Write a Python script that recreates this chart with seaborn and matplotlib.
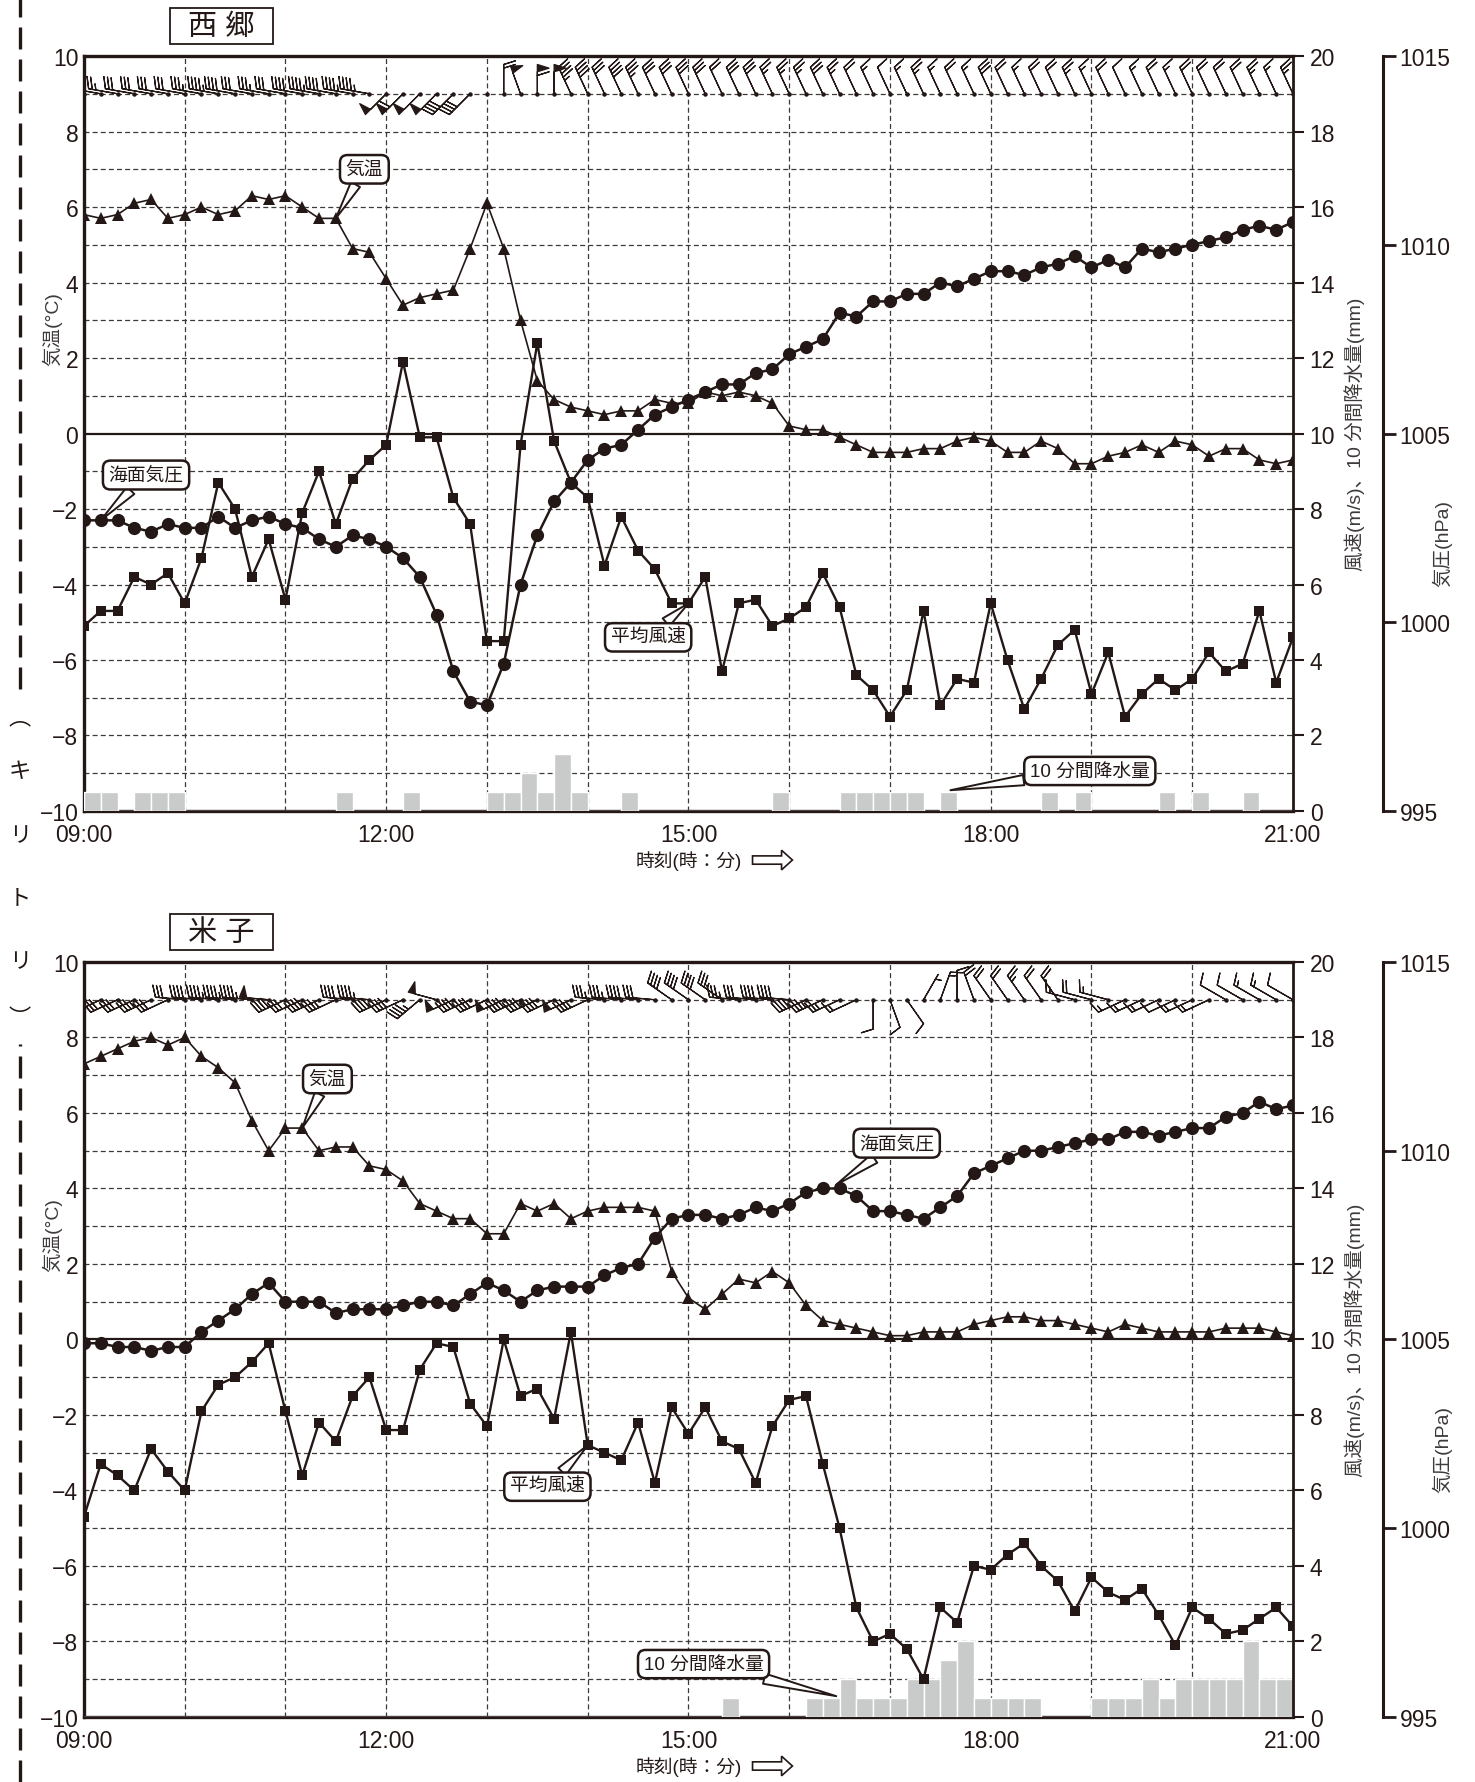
import matplotlib
matplotlib.use("Agg")
import matplotlib.pyplot as plt
from matplotlib.patches import FancyArrow, Rectangle
from matplotlib.lines import Line2D
import seaborn as sns
import numpy as np

INK = '#231815'
GRID = '#3e3a39'
RAIN = '#c9caca'

# 10-minute steps, 09:00 .. 21:00
steps = np.arange(73)
hour_ticks = [0, 18, 36, 54, 72]
hour_labels = ['09:00', '12:00', '15:00', '18:00', '21:00']

# ---------------- 西郷 ----------------
saigo_temp = [5.8, 5.7, 5.8, 6.1, 6.2, 5.7, 5.8, 6.0, 5.8, 5.9,
              6.3, 6.2, 6.3, 6.0, 5.7, 5.7, 4.9, 4.8, 4.1, 3.4,
              3.6, 3.7, 3.8, 4.9, 6.1, 4.9, 3.0, 1.4, 0.9, 0.7,
              0.6, 0.5, 0.6, 0.6, 0.9, 0.8, 0.8, 1.1, 1.0, 1.1,
              1.0, 0.8, 0.2, 0.1, 0.1, -0.1, -0.3, -0.5, -0.5, -0.5,
              -0.4, -0.4, -0.2, -0.1, -0.2, -0.5, -0.5, -0.2, -0.4, -0.8,
              -0.8, -0.6, -0.5, -0.3, -0.5, -0.2, -0.3, -0.6, -0.4, -0.4,
              -0.7, -0.8, -0.7]
saigo_pres = [1002.7, 1002.7, 1002.7, 1002.5, 1002.4, 1002.6, 1002.5, 1002.5, 1002.8, 1002.5,
              1002.7, 1002.8, 1002.6, 1002.5, 1002.2, 1002.0, 1002.3, 1002.2, 1002.0, 1001.7,
              1001.2, 1000.2, 998.7, 997.9, 997.8, 998.9, 1001.0, 1002.3, 1003.2, 1003.7,
              1004.3, 1004.6, 1004.7, 1005.1, 1005.5, 1005.7, 1005.9, 1006.1, 1006.3, 1006.3,
              1006.6, 1006.7, 1007.1, 1007.3, 1007.5, 1008.2, 1008.1, 1008.5, 1008.5, 1008.7,
              1008.7, 1009.0, 1008.9, 1009.1, 1009.3, 1009.3, 1009.2, 1009.4, 1009.5, 1009.7,
              1009.4, 1009.6, 1009.4, 1009.9, 1009.8, 1009.9, 1010.0, 1010.1, 1010.2, 1010.4,
              1010.5, 1010.4, 1010.6]
saigo_wind = [4.9, 5.3, 5.3, 6.2, 6.0, 6.3, 5.5, 6.7, 8.7, 8.0,
              6.2, 7.2, 5.6, 7.9, 9.0, 7.6, 8.8, 9.3, 9.7, 11.9,
              9.9, 9.9, 8.3, 7.6, 4.5, 4.5, 9.7, 12.4, 9.8, 8.7,
              8.3, 6.5, 7.8, 6.9, 6.4, 5.5, 5.5, 6.2, 3.7, 5.5,
              5.6, 4.9, 5.1, 5.4, 6.3, 5.4, 3.6, 3.2, 2.5, 3.2,
              5.3, 2.8, 3.5, 3.4, 5.5, 4.0, 2.7, 3.5, 4.4, 4.8,
              3.1, 4.2, 2.5, 3.1, 3.5, 3.2, 3.5, 4.2, 3.7, 3.9,
              5.3, 3.4, 4.6]
saigo_rain = [0.5, 0.5, 0, 0.5, 0.5, 0.5, 0, 0, 0, 0,
              0, 0, 0, 0, 0, 0.5, 0, 0, 0, 0.5,
              0, 0, 0, 0, 0.5, 0.5, 1.0, 0.5, 1.5, 0.5,
              0, 0, 0.5, 0, 0, 0, 0, 0, 0, 0,
              0, 0.5, 0, 0, 0, 0.5, 0.5, 0.5, 0.5, 0.5,
              0, 0.5, 0, 0, 0, 0, 0, 0.5, 0, 0.5,
              0, 0, 0, 0, 0.5, 0, 0.5, 0, 0, 0.5,
              0, 0]
# wind direction (degrees the wind blows from), nan = calm
saigo_dir = ([280] * 18 + [225] * 6 + [np.nan] + [0, 340, 0, 0] + [335] * 44)

# ---------------- 米子 ----------------
yonago_temp = [7.3, 7.5, 7.7, 7.9, 8.0, 7.8, 8.0, 7.5, 7.2, 6.8,
               5.8, 5.0, 5.6, 5.6, 5.0, 5.1, 5.1, 4.6, 4.5, 4.2,
               3.6, 3.4, 3.2, 3.2, 2.8, 2.8, 3.6, 3.4, 3.6, 3.2,
               3.4, 3.5, 3.5, 3.5, 3.4, 1.8, 1.1, 0.8, 1.2, 1.6,
               1.5, 1.8, 1.5, 0.9, 0.5, 0.4, 0.3, 0.2, 0.1, 0.1,
               0.2, 0.2, 0.2, 0.4, 0.5, 0.6, 0.6, 0.5, 0.5, 0.4,
               0.3, 0.2, 0.4, 0.3, 0.2, 0.2, 0.2, 0.2, 0.3, 0.3,
               0.3, 0.2, 0.1]
yonago_pres = [1004.9, 1004.9, 1004.8, 1004.8, 1004.7, 1004.8, 1004.8, 1005.2, 1005.5, 1005.8,
               1006.2, 1006.5, 1006.0, 1006.0, 1006.0, 1005.7, 1005.8, 1005.8, 1005.8, 1005.9,
               1006.0, 1006.0, 1005.9, 1006.2, 1006.5, 1006.3, 1006.0, 1006.3, 1006.4, 1006.4,
               1006.4, 1006.7, 1006.9, 1007.0, 1007.7, 1008.2, 1008.3, 1008.3, 1008.2, 1008.3,
               1008.5, 1008.4, 1008.6, 1008.9, 1009.0, 1009.0, 1008.8, 1008.4, 1008.4, 1008.3,
               1008.2, 1008.5, 1008.8, 1009.4, 1009.6, 1009.8, 1010.0, 1010.0, 1010.1, 1010.2,
               1010.3, 1010.3, 1010.5, 1010.5, 1010.4, 1010.5, 1010.6, 1010.6, 1010.9, 1011.0,
               1011.3, 1011.1, 1011.2]
yonago_wind = [5.3, 6.7, 6.4, 6.0, 7.1, 6.5, 6.0, 8.1, 8.8, 9.0,
               9.4, 9.9, 8.1, 6.4, 7.8, 7.3, 8.5, 9.0, 7.6, 7.6,
               9.2, 9.9, 9.8, 8.3, 7.7, 10.0, 8.5, 8.7, 7.9, 10.2,
               7.2, 7.0, 6.8, 7.8, 6.2, 8.2, 7.5, 8.2, 7.3, 7.1,
               6.2, 7.7, 8.4, 8.5, 6.7, 5.0, 2.9, 2.0, 2.2, 1.8,
               1.0, 2.9, 2.5, 4.0, 3.9, 4.3, 4.6, 4.0, 3.6, 2.8,
               3.7, 3.3, 3.1, 3.4, 2.7, 1.9, 2.9, 2.6, 2.2, 2.3,
               2.6, 2.9, 2.4]
yonago_rain = [0] * 38 + [0.5, 0, 0, 0, 0, 0.5, 0.5, 1.0, 0.5, 0.5,
                          0.5, 1.0, 1.0, 1.5, 2.0, 0.5, 0.5, 0.5, 0.5, 0,
                          0, 0, 0.5, 0.5, 0.5, 1.0, 0.5, 1.0, 1.0, 1.0,
                          1.0, 2.0, 1.0, 1.0]
yonago_dir = ([245] * 6 + [275] * 6 + [245] * 4 + [275] * 2 + [245] * 2 + [230, 285]
              + [245] * 9 + [275] * 4 + [305] * 4 + [275] * 4 + [245] * 4
              + [180, 160, 145, 30, 20, 0, 340] + [325] * 5 + [285] * 3 + [245] * 6 + [300] * 5)

sns.set_theme(style='white')
plt.rcParams['font.family'] = ['Liberation Sans', 'Noto Sans CJK JP']
plt.rcParams['axes.unicode_minus'] = True

fig = plt.figure(figsize=(14.75, 17.83), dpi=100)


def callout(host, axis, text, xy, xytext):
    host.annotate(text, xy=xy, xycoords=axis.transData, xytext=xytext, textcoords=axis.transData,
                  ha='center', va='center', fontsize=13.5, color=INK, zorder=20,
                  bbox=dict(boxstyle='round,pad=0.3,rounding_size=0.4', fc='white', ec=INK, lw=1.8),
                  arrowprops=dict(arrowstyle='wedge,tail_width=0.55,shrink_factor=0.5',
                                  fc='white', ec=INK, lw=1.4, shrinkA=0, shrinkB=0))


def panel(bottom, station, temp, pres, wind, rain, wdir, notes):
    ax = fig.add_axes([0.0569, bottom, 0.8197, 0.4234])
    axw = ax.twinx()
    axp = ax.twinx()

    ax.set_xlim(0, 72)
    ax.set_ylim(-10, 10)
    axw.set_ylim(0, 20)
    axp.set_ylim(995, 1015)

    # grid
    for y in range(-9, 10):
        if y == 0:
            ax.axhline(0, color=INK, lw=1.6, zorder=1)
        else:
            ax.axhline(y, color=GRID, lw=0.9, ls=(0, (4, 2.5)), zorder=1)
    for x in range(6, 72, 6):
        ax.axvline(x, color=GRID, lw=0.9, ls=(0, (4, 2.5)), zorder=1)

    # rain bars
    axw.bar(steps[:-1], rain, width=1, align='edge', color=RAIN, edgecolor='white', linewidth=1.0, zorder=1)

    # series
    sns.lineplot(x=steps, y=temp, ax=ax, color=INK, lw=1.2, marker='^', markersize=9,
                 markeredgewidth=0, zorder=5)
    sns.lineplot(x=steps, y=wind, ax=axw, color=INK, lw=1.7, marker='s', markersize=6.5,
                 markeredgewidth=0, zorder=5)
    sns.lineplot(x=steps, y=pres, ax=axp, color=INK, lw=1.8, marker='o', markersize=9.5,
                 markeredgewidth=0, zorder=5)

    # wind barbs along the 9 line
    d = np.asarray(wdir, float)
    s = np.asarray(wind, float)
    ok = ~np.isnan(d)
    u = -s[ok] * np.sin(np.radians(d[ok]))
    v = -s[ok] * np.cos(np.radians(d[ok]))
    ax.plot(steps, np.full(73, 9.0), 'o', ms=2.2, color=INK, zorder=6)
    ax.barbs(steps[ok], np.full(ok.sum(), 9.0), u, v, length=6.5, color=INK, lw=0.9,
             barb_increments=dict(half=1, full=2, flag=10), zorder=6)

    # axes cosmetics
    for a in (ax, axw, axp):
        a.set_xlabel('')
        a.set_ylabel('')
        for sp in a.spines.values():
            sp.set_visible(False)
    for side in ('left', 'top', 'bottom'):
        ax.spines[side].set_visible(True)
        ax.spines[side].set_linewidth(2.4)
        ax.spines[side].set_color(INK)
    axw.spines['right'].set_visible(True)
    axw.spines['right'].set_linewidth(2.0)
    axw.spines['right'].set_color(INK)
    axp.spines['right'].set_visible(True)
    axp.spines['right'].set_position(('axes', 1.0745))
    axp.spines['right'].set_linewidth(2.2)
    axp.spines['right'].set_color(INK)

    ax.set_xticks(hour_ticks)
    ax.set_xticklabels(hour_labels)
    ax.set_yticks(range(-10, 11, 2))
    ax.tick_params(axis='x', length=0, pad=9, labelsize=16.5, colors=INK)
    ax.tick_params(axis='y', length=0, pad=4, labelsize=16.5, colors=INK)
    axw.set_yticks(range(0, 21, 2))
    axw.tick_params(axis='y', right=True, direction='out', length=8, width=1.5, pad=4,
                    labelsize=16.5, colors=INK)
    axp.set_yticks(range(995, 1016, 5))
    axp.tick_params(axis='y', right=True, direction='out', length=9, width=2, pad=3,
                    labelsize=16.5, colors=INK)
    ax.patch.set_facecolor('white')

    ax.text(-0.026, 0.64, '気温(°C)', transform=ax.transAxes, rotation=90, ha='center',
            va='center', fontsize=14, color=GRID)
    ax.text(1.051, 0.50, '風速(m/s)、10 分間降水量(mm)', transform=ax.transAxes, rotation=90,
            ha='center', va='center', fontsize=14, color=GRID)
    ax.text(1.123, 0.355, '気圧(hPa)', transform=ax.transAxes, rotation=90, ha='center',
            va='center', fontsize=14, color=GRID)

    # station title box
    ax.add_patch(Rectangle((0.0711, 1.0159), 0.0852, 0.0477, transform=ax.transAxes,
                           fc='white', ec=INK, lw=1.3, clip_on=False))
    ax.text(0.1137, 1.0397, station, transform=ax.transAxes, ha='center', va='center',
            fontsize=21, color=INK)

    # x label and hollow arrow
    ax.text(0.5, -0.065, '時刻(時：分)', transform=ax.transAxes, ha='center', va='center',
            fontsize=13.5, color=INK)
    ax.add_patch(FancyArrow(0.553, -0.065, 0.033, 0, width=0.011, head_width=0.026,
                            head_length=0.009, length_includes_head=True, transform=ax.transAxes,
                            fc='white', ec=INK, lw=1.2, clip_on=False))

    axes_for = {'t': ax, 'w': axw, 'p': axp}
    for text, key, xy, xytext in notes:
        callout(axp, axes_for[key], text, xy, xytext)


panel(0.5446, '西 郷', saigo_temp, saigo_pres, saigo_wind, saigo_rain, saigo_dir,
      [('気温', 't', (15, 5.7), (16.7, 7.0)),
       ('海面気圧', 'p', (1, 1002.7), (3.7, 1003.9)),
       ('平均風速', 'w', (36, 5.5), (33.6, 4.6)),
       ('10 分間降水量', 'w', (51.6, 0.55), (59.9, 1.06))])

panel(0.0365, '米 子', yonago_temp, yonago_pres, yonago_wind, yonago_rain, yonago_dir,
      [('気温', 't', (13, 5.6), (14.5, 6.9)),
       ('海面気圧', 'p', (44.8, 1009.1), (48.4, 1010.2)),
       ('平均風速', 'w', (30, 7.2), (27.6, 6.1)),
       ('10 分間降水量', 'w', (44.8, 0.55), (36.9, 1.4))])

# cut line on the left edge
cx = 20 / 1475
fig.add_artist(Line2D([cx, cx], [1 - 690 / 1783, 1.0], transform=fig.transFigure, color=INK,
                      lw=2.4, ls=(0, (6.6, 3))))
fig.add_artist(Line2D([cx, cx], [0.0, 1 - 1045 / 1783], transform=fig.transFigure, color=INK,
                      lw=2.4, ls=(0, (6.6, 3))))
for ch, ypix in zip(['︵', 'キ', 'リ', 'ト', 'リ', '︶'], [718, 772, 836, 898, 962, 1018]):
    fig.text(cx, 1 - ypix / 1783, ch, ha='center', va='center', fontsize=16, color=INK,
             family=['Noto Sans CJK JP', 'DejaVu Sans'])

fig.savefig('out.png', dpi=100)
